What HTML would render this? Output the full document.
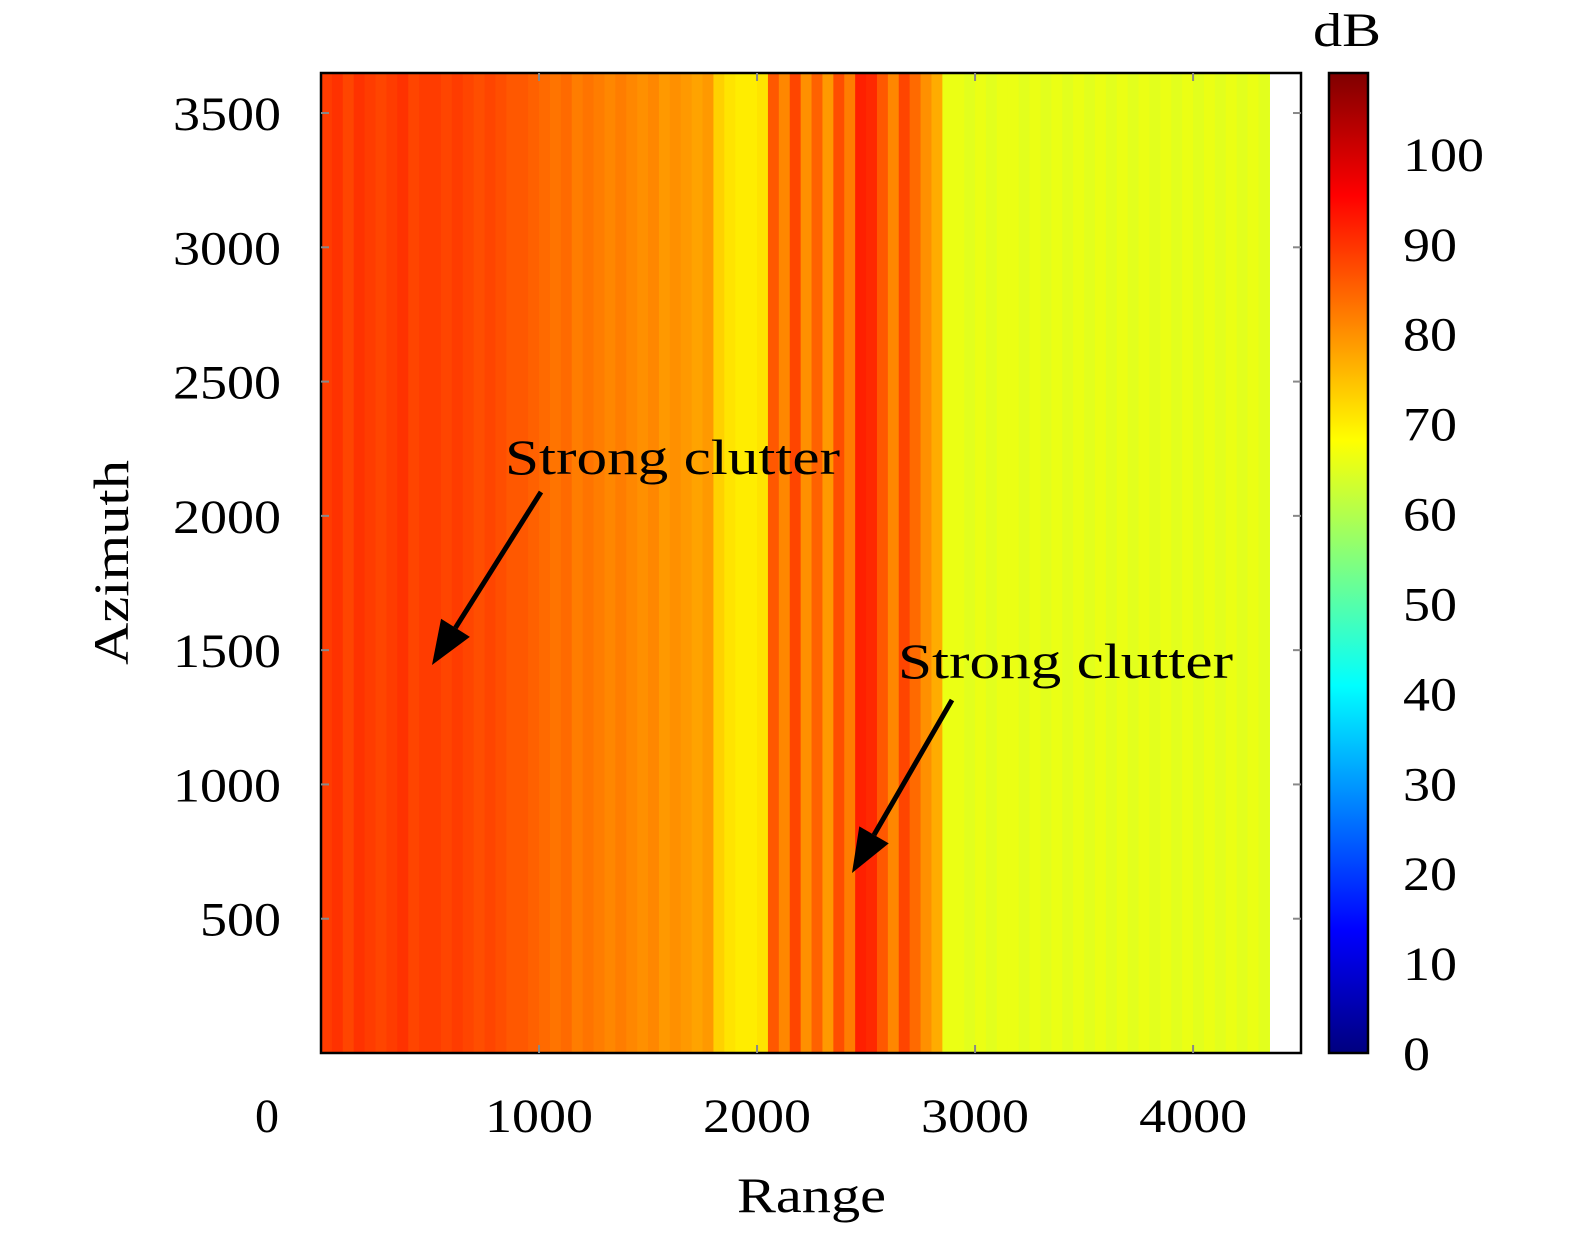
<!DOCTYPE html>
<html><head><meta charset="utf-8"><style>
html,body{margin:0;padding:0;background:#fff;}
svg{display:block;font-family:"Liberation Serif",serif;}
</style></head><body>
<svg id="chart" width="1575" height="1233" viewBox="0 0 1575 1233" xmlns="http://www.w3.org/2000/svg">
<defs>
<linearGradient id="jet" x1="0" y1="1" x2="0" y2="0">
<stop offset="0" stop-color="#00007f"/><stop offset="0.125" stop-color="#0000ff"/>
<stop offset="0.375" stop-color="#00ffff"/><stop offset="0.625" stop-color="#ffff00"/>
<stop offset="0.875" stop-color="#ff0000"/><stop offset="1" stop-color="#7f0000"/>
</linearGradient>
</defs>
<g id="heat"></g>
<g id="axes"></g>
</svg>
<script>
const binWidth = 50;
const rangeBinsDb = [
89,90,88,90,89,88,89,90,88,89,89,88,89,88,87,88,87,86,86,85,
84,83,84,82,83,82,81,82,81,80,81,79,80,79,78,79,
73,71,70,70,71,
86,81,88,80,85,79,87,82,92,91,86,81,88,84,80,77,
66,66,65,66,65,66,66,65,66,65,66,65,66,65,66,65,66,65,66,65,66,65,66,65,66,65,66,65,66,65];
const xTicks = [1000,2000,3000,4000];
const yTicks = [500,1000,1500,2000,2500,3000,3500];
const cTicks = [0,10,20,30,40,50,60,70,80,90,100];
const annotations = [
 {label:"Strong clutter", tx:505, ty:474, x1:541, y1:492, x2:432, y2:665},
 {label:"Strong clutter", tx:898, ty:678, x1:952, y1:700, x2:852, y2:873}
];
const NS="http://www.w3.org/2000/svg";
const L=321,R=1301,T=73,B=1053, XMAX=4495, YMAX=3649;
const CL=1329,CR=1368,CMAX=109;
const sx=v=>L+v/XMAX*(R-L);
const sy=v=>B-v/YMAX*(B-T);
const cy=v=>B-v/CMAX*(B-T);
function jet(t){t=Math.max(0,Math.min(1,t));
 const f=(a)=>Math.max(0,Math.min(1,1.5-Math.abs(4*t-a)));
 const r=f(3),g=f(2),b=f(1);
 return `rgb(${Math.round(r*255)},${Math.round(g*255)},${Math.round(b*255)})`;}
function el(tag,attrs,parent,text){const e=document.createElementNS(NS,tag);for(const k in attrs)e.setAttribute(k,attrs[k]);if(text!==undefined)e.textContent=text;parent.appendChild(e);return e;}
const heat=document.getElementById('heat'), ax=document.getElementById('axes');
rangeBinsDb.forEach((v,i)=>{
 const x0=sx(i*binWidth), x1=sx((i+1)*binWidth);
 const r=el('rect',{x:x0,y:T,width:x1-x0+0.6,height:B-T,fill:jet(v/CMAX)},heat);
 
 
});
const frame=el('rect',{x:L,y:T,width:R-L,height:B-T,fill:'none',stroke:'#000','stroke-width':2.5},ax);

const tl=s=>String(s).length*27;
xTicks.forEach(v=>{
 el('line',{x1:sx(v),x2:sx(v),y1:B,y2:B-8,stroke:'#888','stroke-width':2},ax);
 el('line',{x1:sx(v),x2:sx(v),y1:T,y2:T+8,stroke:'#888','stroke-width':2},ax);
 const t=el('text',{x:sx(v),y:1132,'font-size':48,'text-anchor':'middle',textLength:tl(v),lengthAdjust:'spacingAndGlyphs'},ax,v);
 
});
const z=el('text',{x:267,y:1132,'font-size':48,'text-anchor':'middle'},ax,'0');

yTicks.forEach(v=>{
 el('line',{x1:L,x2:L+8,y1:sy(v),y2:sy(v),stroke:'#888','stroke-width':2},ax);
 el('line',{x1:R,x2:R-8,y1:sy(v),y2:sy(v),stroke:'#888','stroke-width':2},ax);
 const t=el('text',{x:281-tl(v),y:sy(v)+17,'font-size':48,textLength:tl(v),lengthAdjust:'spacingAndGlyphs'},ax,v);
 
});
const xt=el('text',{x:737,y:1212,'font-size':50,textLength:149,lengthAdjust:'spacingAndGlyphs'},ax,'Range');

const yt=el('text',{x:-665,y:128,'font-size':50,transform:'rotate(-90)',textLength:205,lengthAdjust:'spacingAndGlyphs'},ax,'Azimuth');

const cb=el('rect',{x:CL,y:T,width:CR-CL,height:B-T,fill:'url(#jet)',stroke:'#000','stroke-width':2.5},ax);

cTicks.forEach(v=>{
 const t=el('text',{x:1403,y:cy(v)+17,'font-size':48,textLength:tl(v),lengthAdjust:'spacingAndGlyphs'},ax,v);
 
});
const db=el('text',{x:1313,y:46,'font-size':48,textLength:68,lengthAdjust:'spacingAndGlyphs'},ax,'dB');

annotations.forEach(a=>{
 const g=el('g',{},ax);
 
 el('text',{x:a.tx,y:a.ty,'font-size':50,textLength:335,lengthAdjust:'spacingAndGlyphs'},g,a.label);
 const dx=a.x2-a.x1,dy=a.y2-a.y1,len=Math.hypot(dx,dy),ux=dx/len,uy=dy/len;
 const hl=44,hw=17,bx=a.x2-ux*hl,by=a.y2-uy*hl;
 el('line',{x1:a.x1,y1:a.y1,x2:bx,y2:by,stroke:'#000','stroke-width':5},g);
 el('polygon',{points:`${a.x2},${a.y2} ${bx-uy*hw},${by+ux*hw} ${bx+uy*hw},${by-ux*hw}`,fill:'#000'},g);
});
</script>
</body></html>
